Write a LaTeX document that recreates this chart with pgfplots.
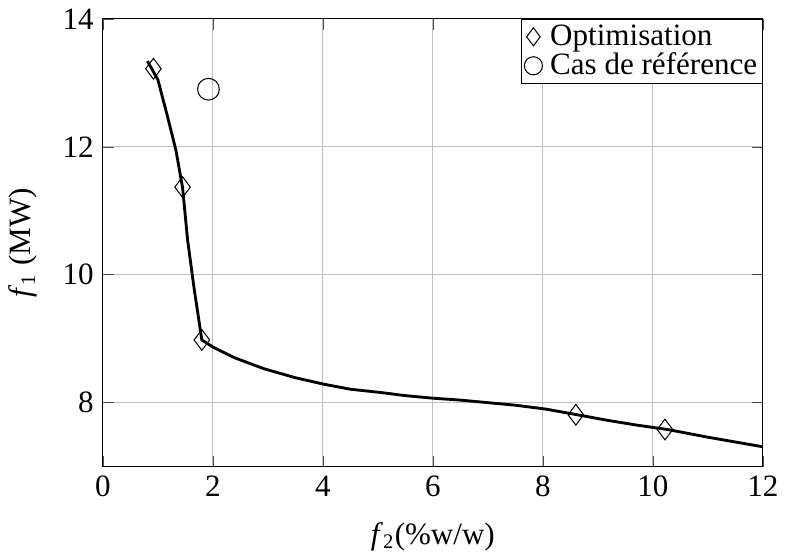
\documentclass[border=0pt]{standalone}
\usepackage{fontspec}
\setmainfont{Liberation Serif}
\usepackage{pgfplots}
\pgfplotsset{compat=1.18}
\begin{document}
\begin{tikzpicture}
\begin{axis}[
  scale only axis,
  width=255pt, height=173pt,
  xmin=0, xmax=12, ymin=7, ymax=14,
  xtick={0,2,...,12}, ytick={8,10,12,14},
  grid=major,
  major grid style={gray!50, line width=0.4pt},
  axis line style={black},
  tick style={black!70},
  /pgf/number format/assume math mode=true,
  ticklabel style={font=\large},
  label style={font=\large},
  xlabel={\textit{f}\textsubscript{2}(\%w/w)},
  ylabel={\textit{f}\textsubscript{1} (MW)},
  xlabel style={yshift=-3pt},
  ylabel style={yshift=3pt},
  legend style={at={(1,1)}, anchor=north east, font=\large, draw=black,
    inner sep=1pt, row sep=-0.5pt, column sep=2pt, legend cell align=left,
    nodes={inner sep=1pt}},
  legend image code/.code={\draw[#1, mark size=3.5pt] plot coordinates {(0.3em,0)};},
]
\addplot[black, line width=1.1pt, forget plot] coordinates {
(0.81,13.34) (1.0,13.05) (1.18,12.46) (1.33,11.94) (1.45,11.36) (1.54,10.55)
(1.66,9.78) (1.80,8.98) (2.02,8.86) (2.4,8.70) (2.93,8.53) (3.5,8.39)
(4.01,8.29) (4.5,8.21) (5.04,8.16) (5.5,8.11) (6.0,8.07) (6.5,8.04)
(7.0,8.00) (7.5,7.96) (8.05,7.90) (8.63,7.81) (9.2,7.72) (9.7,7.65)
(10.27,7.58) (11.0,7.46) (12.0,7.31)
};
\addplot[only marks, mark=diamond, mark size=4pt, black, thin] coordinates {
(0.92,13.22) (1.45,11.37) (1.80,8.98) (8.60,7.81) (10.22,7.58)
};
\addlegendentry{Optimisation}
\addplot[only marks, mark=o, mark size=4.2pt, black, thin] coordinates {
(1.92,12.90)
};
\addlegendentry{Cas de référence}
\end{axis}
\end{tikzpicture}
\end{document}
